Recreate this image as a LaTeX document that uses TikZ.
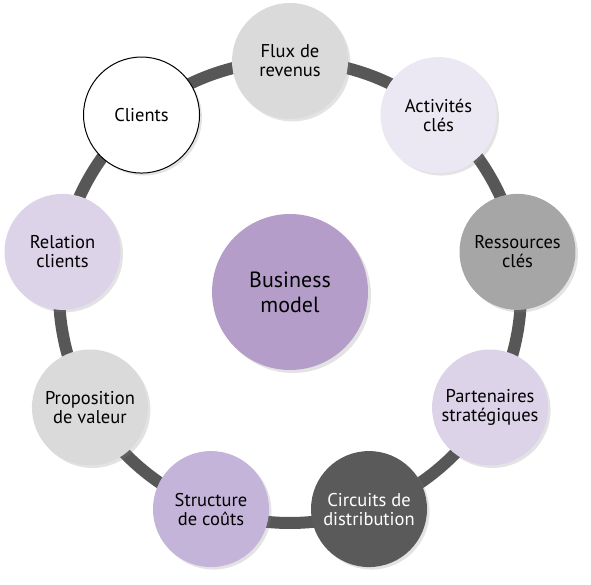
\documentclass[tikz,border=0pt]{standalone}
\usepackage{fontspec}
\setmainfont{PT Sans}
\usetikzlibrary{shadows}
\definecolor{ringgray}{HTML}{575757}
\definecolor{lightgray}{HTML}{DADADA}
\definecolor{midgray}{HTML}{A6A6A6}
\definecolor{darkgray}{HTML}{5A5A5A}
\definecolor{palelilac}{HTML}{ECE8F3}
\definecolor{lilac}{HTML}{DCD3E8}
\definecolor{mauve}{HTML}{C5B4D9}
\definecolor{purple}{HTML}{B59DCA}
\tikzset{
  bubble/.style={circle, draw=none, minimum size=116pt, inner sep=0pt, align=center,
    font=\fontsize{18.5}{19}\selectfont,
    drop shadow={shadow xshift=2.5pt, shadow yshift=-2.5pt, opacity=0.22}},
  ring/.style={draw=ringgray, line width=12pt}
}
\begin{document}
\begin{tikzpicture}[x=1pt,y=1pt]
\useasboundingbox (0,0) rectangle (591,585);
\node [circle, fill=purple, minimum size=156pt, align=center, font=\fontsize{22}{25}\selectfont,
  drop shadow={shadow xshift=3pt, shadow yshift=-3pt, opacity=0.22}] (bm) at (290,293) {Business\\model};
\draw [ring] (bm.center) circle (231);
\begin{scope}[shift={(bm.center)}]
\node [bubble, fill=lightgray] (flux) at (90:231) {Flux de\\revenus};
\node [bubble, fill=palelilac] (activites) at (50:231) {Activités\\clés};
\node [bubble, fill=midgray] (ressources) at (10:231) {Ressources\\clés};
\node [bubble, fill=lilac] (partenaires) at (-30:231) {Partenaires\\stratégiques};
\node [bubble, fill=darkgray, text=white] (circuits) at (-70:231) {Circuits de\\distribution};
\node [bubble, fill=mauve] (couts) at (-110:231) {Structure\\de coûts};
\node [bubble, fill=lightgray] (proposition) at (-150:231) {Proposition\\de valeur};
\node [bubble, fill=lilac] (relation) at (170:231) {Relation\\clients};
\node [bubble, fill=white, draw=black, line width=1pt] (clients) at (130:231) {Clients};
\end{scope}
\end{tikzpicture}
\end{document}
